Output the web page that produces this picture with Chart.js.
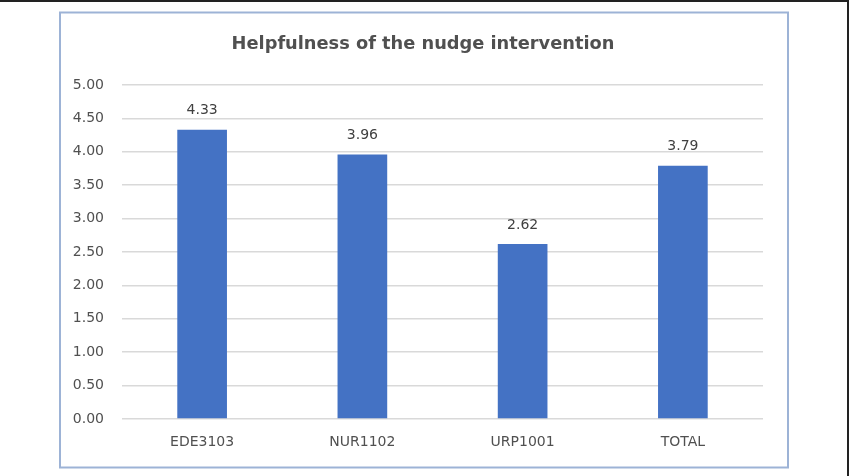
<!DOCTYPE html>
<html>
<head>
<meta charset="utf-8">
<script src="https://cdn.jsdelivr.net/npm/chart.js@4"></script>
<style>
  html, body { margin: 0; padding: 0; background: #fff; }
  #wrap { width: 853px; height: 476px; position: relative; }
</style>
</head>
<body>
<div id="wrap"><canvas id="nudgeChart" width="853" height="476"></canvas></div>
<script>
// Chart data
const courses = ['EDE3103', 'NUR1102', 'URP1001', 'TOTAL'];
const helpfulness = [4.33, 3.96, 2.62, 3.79];
const yTicks = [0, 0.5, 1, 1.5, 2, 2.5, 3, 3.5, 4, 4.5, 5];
const chartTitle = 'Helpfulness of the nudge intervention';

const textColor = '#505050';
const fontFamily = '"DejaVu Sans", sans-serif';

// Frames around the picture (outer page frame + chart border) and the title
const framePlugin = {
    id: 'frames',
    beforeDraw(chart) {
        const ctx = chart.ctx;
        ctx.save();
        ctx.fillStyle = '#fff';
        ctx.fillRect(0, 0, chart.width, chart.height);
        ctx.strokeStyle = '#222';
        ctx.lineWidth = 2;
        ctx.beginPath();
        ctx.moveTo(0, 1);
        ctx.lineTo(848, 1);
        ctx.lineTo(848, 476);
        ctx.stroke();
        ctx.strokeStyle = '#9db3d6';
        ctx.lineWidth = 2;
        ctx.strokeRect(60, 12.5, 728, 455);

        // title, centred on the chart border
        ctx.font = 'bold 17.8px ' + fontFamily;
        ctx.fillStyle = textColor;
        ctx.textAlign = 'center';
        ctx.textBaseline = 'middle';
        ctx.fillText(chartTitle, 423, 44.5);
        ctx.restore();
    }
};

// Value labels above bars
const valueLabelPlugin = {
    id: 'valueLabels',
    afterDatasetsDraw(chart) {
        const ctx = chart.ctx;
        const meta = chart.getDatasetMeta(0);
        ctx.save();
        ctx.font = '14px ' + fontFamily;
        ctx.fillStyle = '#404040';
        ctx.textAlign = 'center';
        ctx.textBaseline = 'middle';
        meta.data.forEach((bar, i) => {
            ctx.fillText(helpfulness[i].toFixed(2), bar.x, bar.y - 19);
        });
        ctx.restore();
    }
};

new Chart(document.getElementById('nudgeChart'), {
    type: 'bar',
    data: {
        labels: courses,
        datasets: [{
            data: helpfulness,
            backgroundColor: '#4472C4',
            borderWidth: 0,
            barPercentage: 0.31,
            categoryPercentage: 1
        }]
    },
    options: {
        responsive: false,
        animation: false,
        layout: {
            padding: { left: 60, right: 90, top: 85, bottom: 26 }
        },
        plugins: {
            legend: { display: false },
            tooltip: { enabled: false },
            title: { display: false }
        },
        scales: {
            x: {
                grid: { display: false, drawTicks: false },
                border: { display: false },
                ticks: {
                    color: textColor,
                    padding: 15,
                    font: { family: fontFamily, size: 14 }
                },
                afterFit(scale) { scale.height = 31; }
            },
            y: {
                min: 0,
                max: 5,
                afterBuildTicks(scale) {
                    scale.ticks = yTicks.map(v => ({ value: v }));
                },
                grid: { color: '#d9d9d9', lineWidth: 1.5, drawTicks: false },
                border: { display: false },
                ticks: {
                    color: textColor,
                    padding: 18,
                    font: { family: fontFamily, size: 14 },
                    callback: v => Number(v).toFixed(2)
                },
                afterFit(scale) { scale.width = 62; }
            }
        }
    },
    plugins: [framePlugin, valueLabelPlugin]
});
</script>
</body>
</html>
